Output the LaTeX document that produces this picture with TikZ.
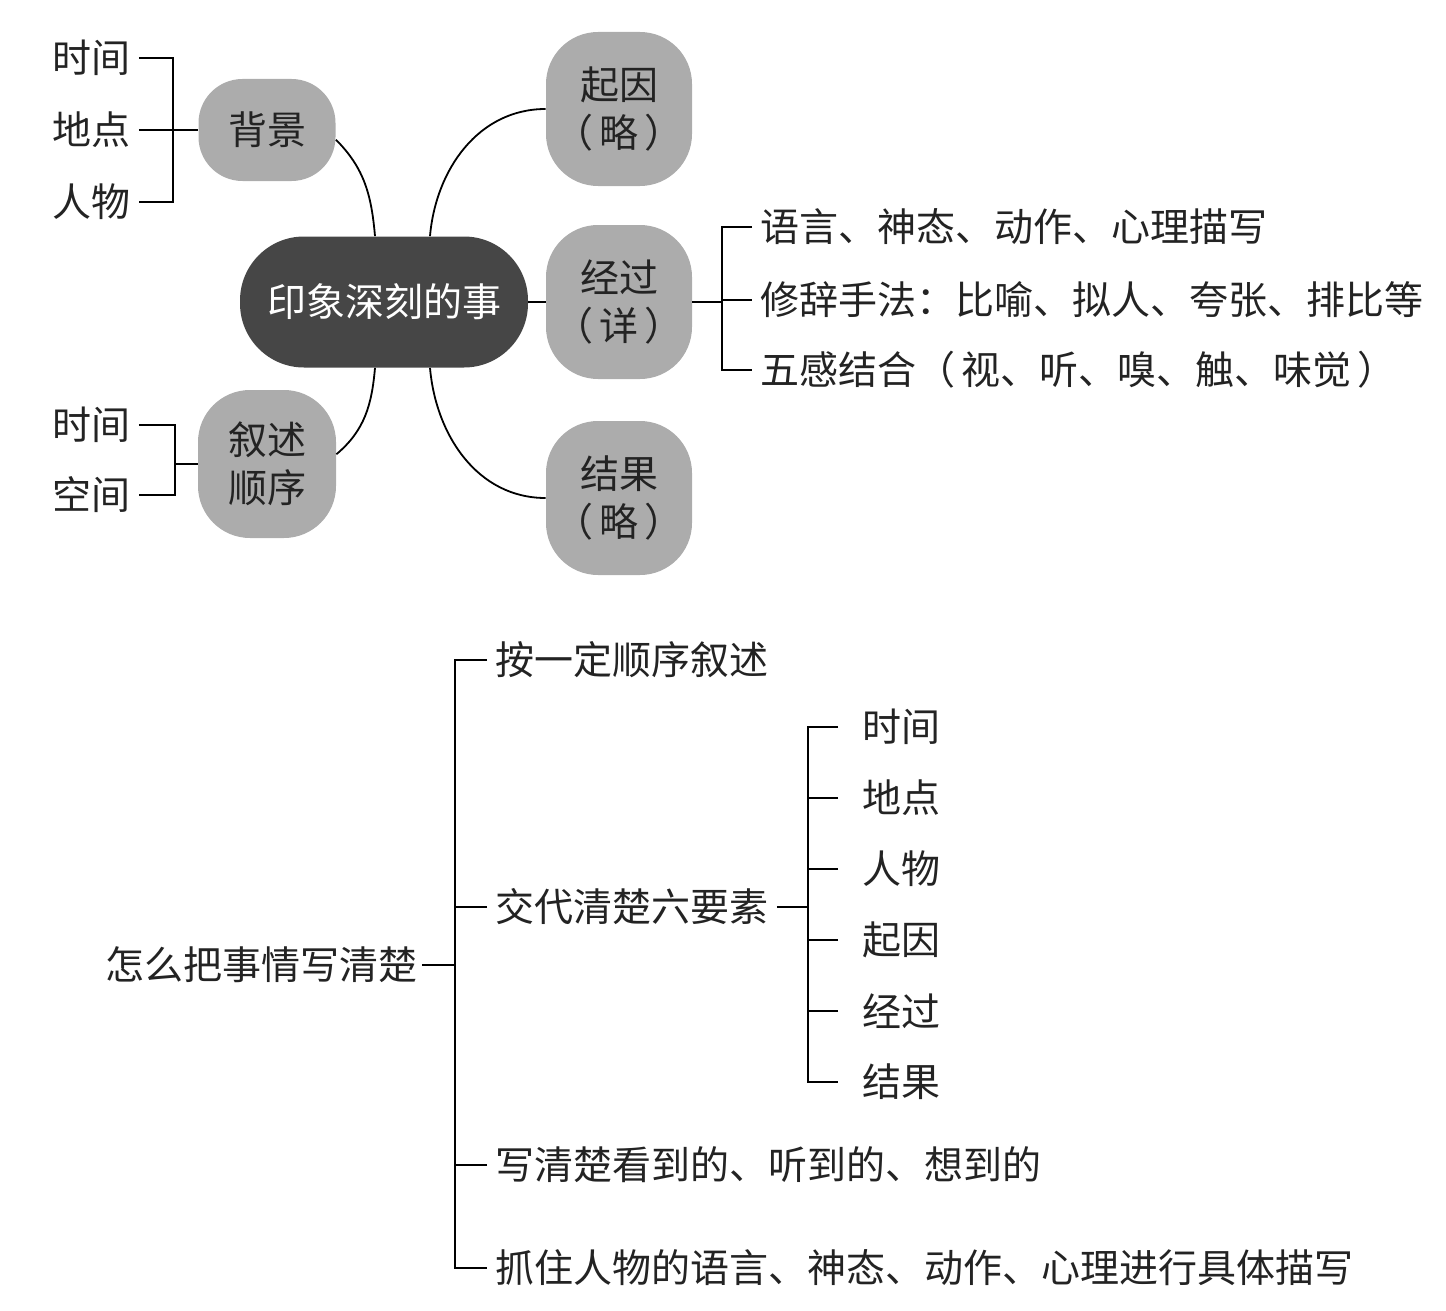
\documentclass[tikz,border=0pt]{standalone}
\usepackage{fontspec}
\newfontfamily\cjk{Noto Sans CJK SC}
\usepackage{tikz}
\usetikzlibrary{calc}
\definecolor{mydark}{RGB}{35,35,35}
\definecolor{blobgray}{RGB}{172,172,172}
\definecolor{coregray}{RGB}{70,70,70}
\tikzset{
  blob/.style={rectangle, fill=blobgray, text=mydark, align=center,
    inner sep=0pt, rounded corners=26pt,
    font=\cjk\fontsize{19.5pt}{24pt}\selectfont},
  core/.style={rectangle, fill=coregray, text=white, align=center,
    inner sep=0pt, rounded corners=32pt, minimum width=144pt,
    minimum height=65.5pt, font=\cjk\fontsize{19.5pt}{24pt}\selectfont},
  leaf/.style={anchor=west, inner xsep=4pt, inner ysep=0pt, text=mydark,
    font=\cjk\fontsize{19.5pt}{24pt}\selectfont},
  line/.style={line width=0.9pt, color=black}
}

\begin{document}
\begin{tikzpicture}[x=0.5pt, y=-0.5pt]
  \useasboundingbox (0,0) rectangle (1446,1311);

  % centre and the five bubbles
  \node[core] (ctr) at (384,302) {印象深刻的事};
  \node[blob, minimum width=68.5pt, minimum height=51pt, rounded corners=22pt] (bg) at (267,130) {背景};
  \node[blob, minimum width=69pt, minimum height=74pt] (xs) at (267,464) {叙述\\顺序};
  \node[blob, minimum width=73pt, minimum height=77pt] (qy) at (619,109) {起因\\（\hspace{3pt}略\hspace{3pt}）};
  \node[blob, minimum width=73pt, minimum height=77pt] (jg) at (619,302) {经过\\（\hspace{3pt}详\hspace{3pt}）};
  \node[blob, minimum width=73pt, minimum height=77pt] (jgu) at (619,498) {结果\\（\hspace{3pt}略\hspace{3pt}）};

  % curved links
  \draw[line] (bg.-8) to[out=-45, in=95] ([xshift=-4.5pt]ctr.north);
  \draw[line] ([xshift=23pt]ctr.north) to[out=85, in=180] (qy.west);
  \draw[line] (ctr.east) -- (jg.west);
  \draw[line] ([xshift=23pt]ctr.south) to[out=-85, in=180] (jgu.west);
  \draw[line] ([xshift=-4.5pt]ctr.south) to[out=-95, in=40] (xs.8);

  % background: time, place, people
  \node[leaf] (bgA) at (44,58) {时间};
  \node[leaf] (bgB) at (44,130) {地点};
  \node[leaf] (bgC) at (44,202) {人物};
  \draw[line] (bgA.east) -- ++(34,0) |- (bgC.east);
  \draw[line] (bgB.east) -- (bg.west);

  % narrative order
  \node[leaf] (xsA) at (44,425) {时间};
  \node[leaf] (xsB) at (44,495) {空间};
  \draw[line] (xsA.east) -- ++(36,0) |- (xsB.east);
  \draw[line] (xs.west) -- ([xshift=18pt]xsA.east |- xs.west);

  % details of the process
  \node[leaf] (dA) at (752,227) {语言、神态、动作、心理描写};
  \node[leaf] (dB) at (752,300) {修辞手法：比喻、拟人、夸张、排比等};
  \node[leaf] (dC) at (752,370) {五感结合（\hspace{3pt}视、听、嗅、触、味觉\hspace{3pt}）};
  \draw[line] (dA.west) -- ++(-30,0) |- (dC.west);
  \draw[line] (jg.east) -- ([xshift=-15pt]dA.west |- jg.east);
  \draw[line] ([xshift=-15pt]dA.west |- dB.west) -- (dB.west);

  % lower tree
  \node[leaf, inner xsep=2pt] (root) at (101,965) {怎么把事情写清楚};
  \node[leaf] (sA) at (487,660) {按一定顺序叙述};
  \node[leaf] (sB) at (487,907) {交代清楚六要素};
  \node[leaf] (sC) at (487,1165) {写清楚看到的、听到的、想到的};
  \node[leaf] (sD) at (487,1268) {抓住人物的语言、神态、动作、心理进行具体描写};
  \draw[line] (sA.west) -- ++(-32,0) |- (sD.west);
  \draw[line] (sB.west) -- ++(-32,0);
  \draw[line] (sC.west) -- ++(-32,0);
  \draw[line] (root.east) -- ([xshift=-16pt]sA.west |- root.east);

  % six elements
  \foreach \t [count=\i] in {时间,地点,人物,起因,经过,结果}
    \node[leaf, inner xsep=12pt] (e\i) at (838,{727+71*(\i-1)}) {\t};
  \draw[line] (e1.west) -- ++(-30,0) |- (e6.west);
  \foreach \i in {2,...,5}
    \draw[line] (e\i.west) -- ++(-30,0);
  \draw[line] (sB.east) -- ([xshift=-15pt]e1.west |- sB.east);
\end{tikzpicture}
\end{document}
